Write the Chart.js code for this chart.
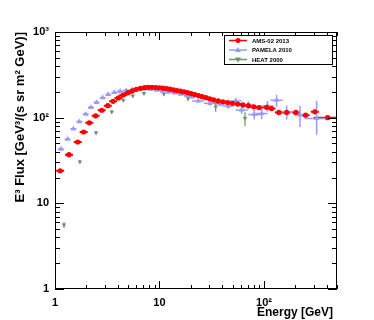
<!DOCTYPE html>
<html>
<head>
<meta charset="utf-8">
<script src="https://cdn.jsdelivr.net/npm/chart.js@4"></script>
<style>
html, body { margin: 0; padding: 0; background: #fff; }
</style>
</head>
<body>
<canvas id="fluxChart" width="374" height="320"></canvas>
<script>
// AMS-02 2013 (energy in GeV, E^3 flux)
var amsE = [1.12, 1.36, 1.65, 1.88, 2.13, 2.45, 2.8, 3.2, 3.6, 4.05, 4.5, 5.0, 5.5, 6.0, 6.6, 7.2, 7.8, 8.5, 9.2, 10.0,
            10.8, 11.7, 12.6, 13.6, 14.7, 15.9, 17.2, 18.6, 20.1, 21.8, 23.6, 25.6, 27.8, 30.2, 33, 36.5, 40.5, 45, 50, 56,
            63, 71, 80, 90, 106, 118, 139, 165, 202, 250, 307, 407];
var amsF = [24, 37, 52, 68, 87, 105, 122, 138, 155, 170, 184, 196, 206, 214, 220, 224, 226, 226, 225, 223,
            221, 218, 215, 211, 207, 204, 200, 196, 191, 186, 181, 176, 171, 166, 161, 157, 153, 150, 147, 144,
            141, 138, 134, 131, 132, 128, 115, 115, 115, 107, 117, 100];
var amsErr = [0.5, 0.7, 0.8, 1, 1, 1, 1, 1, 1, 1, 1, 1, 1, 1, 1, 1, 1, 1, 1, 1,
              1, 1, 1, 1, 1, 1, 1, 1, 1, 1, 1, 1, 1, 1, 1, 1, 1, 1, 1, 1,
              2, 2, 2, 2, 3, 3, 3, 4, 4, 5, 7, 6];

// PAMELA 2010
var pamE = [1.14, 1.32, 1.50, 1.71, 1.97, 2.21, 2.50, 2.86, 3.23, 3.7, 4.2, 4.8, 5.5, 6.3, 7.2, 8.2, 9.4, 10.7, 12.2, 14,
            16, 18.3, 20.5, 23.5, 30.4, 38, 45.5, 53.6, 61.2, 70.8, 80.8, 95, 108, 132, 165, 221, 319];
var pamF = [43, 56, 74, 90, 110, 132, 151, 171, 187, 197, 203, 208, 212, 215, 216, 214, 209, 204, 199, 194,
            188, 181, 175, 157, 147, 145, 137, 157, 123, 140, 109, 112, 137, 160, 117, 108, 98];
var pamErrLo = [1, 1, 2, 2, 2, 3, 3, 3, 3, 3, 3, 3, 3, 3, 3, 3, 3, 3, 3, 4,
                4, 4, 5, 7, 8, 9, 10, 13, 12, 15, 14, 16, 20, 25, 22, 30, 35];
var pamErrHi = [1, 1, 2, 2, 2, 3, 3, 3, 3, 3, 3, 3, 3, 3, 3, 3, 3, 3, 3, 4,
                4, 4, 5, 7, 8, 9, 10, 13, 12, 15, 14, 16, 20, 25, 22, 30, 60];

// HEAT 2000
var heatE = [1.22, 1.73, 2.47, 3.49, 4.5, 5.55, 7.1, 11.0, 18.8, 34.5, 65.8];
var heatF = [5.6, 30.6, 66.7, 117, 160, 180, 192, 189, 167, 134, 98];
var heatErr = [0.4, 1.5, 3, 5, 6, 7, 8, 8, 9, 17, 18];

var seriesNames = ['AMS-02 2013', 'PAMELA 2010', 'HEAT 2000'];
var xTickVals = [1, 10, 100];
var xTickLabels = ['1', '10', '10\u00b2'];
var yTickVals = [1, 10, 100, 1000];
var yTickLabels = ['1', '10', '10\u00b2', '10\u00b3'];
var xTitle = 'Energy [GeV]';
var yTitle = 'E\u00b3 Flux [GeV\u00b3/(s sr m\u00b2 GeV)]';

var RED = '#ff0000', BLUE = '#9999ff', GREEN = '#669966';

function pts(xs, ys) {
    return xs.map(function(x, i) { return { x: x, y: ys[i] }; });
}

// horizontal half bar in px, vertical errors in data units
var errInfo = [
    { lo: amsErr, hi: amsErr, hw: function(i, n) { return i === n - 1 ? 14 : 4; }, width: 2 },
    { lo: pamErrLo, hi: pamErrHi, hw: function(i, n) { return i === n - 1 ? 12 : (i > 22 ? 6 : 3); }, width: 1.5 },
    { lo: heatErr, hi: heatErr, hw: function() { return 0; }, width: 1.2 }
];

function drawMarker(ctx, style, x, y, color) {
    ctx.fillStyle = color;
    ctx.beginPath();
    if (style === 'circle') {
        ctx.arc(x, y, 2.5, 0, Math.PI * 2);
    } else if (style === 'up') {
        ctx.moveTo(x, y - 3); ctx.lineTo(x + 3, y + 2); ctx.lineTo(x - 3, y + 2);
    } else {
        ctx.moveTo(x, y + 3); ctx.lineTo(x + 3, y - 2); ctx.lineTo(x - 3, y - 2);
    }
    ctx.closePath();
    ctx.fill();
}

var rootStyle = {
    id: 'rootStyle',
    beforeDatasetsDraw: function(chart) {
        var ctx = chart.ctx, a = chart.chartArea, ys = chart.scales.y;
        ctx.save();
        ctx.beginPath();
        ctx.rect(a.left, a.top, a.right - a.left, a.bottom - a.top);
        ctx.clip();
        chart.data.datasets.forEach(function(ds, di) {
            var meta = chart.getDatasetMeta(di), info = errInfo[di];
            ctx.strokeStyle = ds.borderColor;
            ctx.lineWidth = info.width;
            meta.data.forEach(function(p, j) {
                var v = ds.data[j].y;
                var yHi = ys.getPixelForValue(v + info.hi[j]);
                var yLo = ys.getPixelForValue(Math.max(v - info.lo[j], 0.01));
                var hw = info.hw(j, meta.data.length);
                ctx.beginPath();
                ctx.moveTo(p.x, yHi); ctx.lineTo(p.x, yLo);
                if (hw > 0) { ctx.moveTo(p.x - hw, p.y); ctx.lineTo(p.x + hw, p.y); }
                ctx.stroke();
            });
        });
        ctx.restore();
    },
    afterDatasetsDraw: function(chart) {
        var ctx = chart.ctx, a = chart.chartArea;
        var xs = chart.scales.x, ys = chart.scales.y;
        ctx.save();
        ctx.strokeStyle = '#000';
        ctx.lineWidth = 1;
        ctx.strokeRect(a.left + 0.5, a.top + 0.5, a.right - a.left - 1, a.bottom - a.top - 1);

        // inner ticks on all four sides
        ctx.beginPath();
        var d, k, v, p, len;
        for (d = 0; d < 3; d++) {
            for (k = 1; k < 10; k++) {
                v = k * Math.pow(10, d);
                if (v > xs.max) break;
                p = Math.round(xs.getPixelForValue(v)) + 0.5;
                len = k === 1 ? 8 : 4;
                ctx.moveTo(p, a.bottom); ctx.lineTo(p, a.bottom - len);
                ctx.moveTo(p, a.top); ctx.lineTo(p, a.top + len);
            }
        }
        for (d = 0; d < 3; d++) {
            for (k = 1; k < 10; k++) {
                v = k * Math.pow(10, d);
                p = Math.round(ys.getPixelForValue(v)) + 0.5;
                len = k === 1 ? 9 : 5;
                ctx.moveTo(a.left, p); ctx.lineTo(a.left + len, p);
                ctx.moveTo(a.right, p); ctx.lineTo(a.right - len, p);
            }
        }
        ctx.stroke();

        // legend box
        var lx = 224, ly = 35, lw = 108, lh = 29;
        ctx.fillStyle = '#fff';
        ctx.fillRect(lx, ly, lw, lh);
        ctx.strokeRect(lx + 0.5, ly + 0.5, lw, lh);
        var marks = ['circle', 'up', 'down'];
        ctx.font = 'bold 6px "Liberation Sans", Arial, sans-serif';
        ctx.textBaseline = 'middle';
        ctx.textAlign = 'left';
        chart.data.datasets.forEach(function(ds, i) {
            var ey = ly + 5.5 + i * 9.5;
            ctx.strokeStyle = ds.borderColor;
            ctx.lineWidth = 1.5;
            ctx.beginPath();
            ctx.moveTo(lx + 5, ey); ctx.lineTo(lx + 23, ey);
            ctx.stroke();
            drawMarker(ctx, marks[i], lx + 14, ey, ds.borderColor);
            ctx.fillStyle = '#000';
            ctx.fillText(ds.label, lx + 28, ey + 0.5);
        });

        // axis titles, ROOT style (right aligned)
        ctx.fillStyle = '#000';
        ctx.font = 'bold 12px "Liberation Sans", Arial, sans-serif';
        ctx.textAlign = 'right';
        ctx.textBaseline = 'alphabetic';
        ctx.fillText(xTitle, 333, 316);
        ctx.font = 'bold 13px "Liberation Sans", Arial, sans-serif';
        ctx.translate(24, a.top);
        ctx.rotate(-Math.PI / 2);
        ctx.fillText(yTitle, 0, 0);
        ctx.restore();
    }
};

var tickFont = { family: '"Liberation Sans", Arial, sans-serif', size: 11, weight: 'bold' };

new Chart(document.getElementById('fluxChart'), {
    type: 'scatter',
    data: {
        datasets: [
            { label: seriesNames[0], data: pts(amsE, amsF), borderColor: RED, backgroundColor: RED,
              pointStyle: 'circle', pointRadius: 2.6, borderWidth: 0 },
            { label: seriesNames[1], data: pts(pamE, pamF), borderColor: BLUE, backgroundColor: BLUE,
              pointStyle: 'triangle', pointRadius: 3.2, borderWidth: 0 },
            { label: seriesNames[2], data: pts(heatE, heatF), borderColor: GREEN, backgroundColor: GREEN,
              pointStyle: 'triangle', rotation: 180, pointRadius: 2.6, borderWidth: 0 }
        ]
    },
    options: {
        responsive: false,
        animation: false,
        layout: { padding: { left: 0, right: 37, top: 32, bottom: 0 } },
        plugins: { legend: { display: false }, tooltip: { enabled: false } },
        scales: {
            x: {
                type: 'logarithmic', min: 1, max: 500,
                grid: { display: false, drawTicks: false, tickLength: 0 }, border: { display: false },
                afterBuildTicks: function(s) { s.ticks = xTickVals.map(function(v) { return { value: v }; }); },
                afterFit: function(s) { s.height = 31; },
                ticks: {
                    autoSkip: false, maxRotation: 0, padding: 7, color: '#000', font: tickFont,
                    callback: function(v) { var i = xTickVals.indexOf(v); return i < 0 ? '' : xTickLabels[i]; }
                }
            },
            y: {
                type: 'logarithmic', min: 1, max: 1000,
                grid: { display: false, drawTicks: false, tickLength: 0 }, border: { display: false },
                afterBuildTicks: function(s) { s.ticks = yTickVals.map(function(v) { return { value: v }; }); },
                afterFit: function(s) { s.width = 55; },
                ticks: {
                    autoSkip: false, padding: 6, color: '#000', font: tickFont,
                    callback: function(v) { var i = yTickVals.indexOf(v); return i < 0 ? '' : yTickLabels[i]; }
                }
            }
        }
    },
    plugins: [rootStyle]
});
</script>
</body>
</html>
